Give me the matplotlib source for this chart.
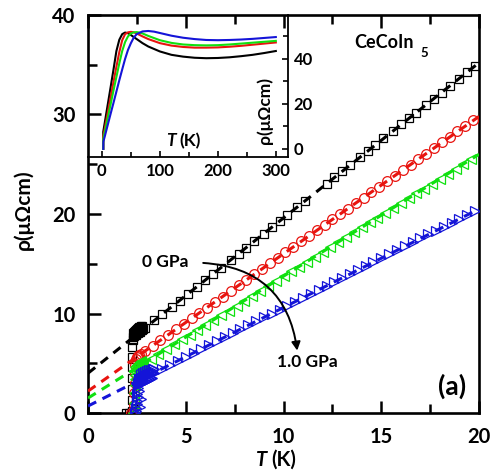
import matplotlib
matplotlib.use("Agg")
import matplotlib.pyplot as plt
from matplotlib.patches import FancyArrowPatch
from matplotlib.ticker import MultipleLocator

plt.rcParams['font.family'] = ['Lato', 'DejaVu Sans']
plt.rcParams['font.weight'] = 'bold'

# ---------------- main panel data (T in K, rho in uOhm cm) ----------------
T_0 = [2.9, 3.4, 3.8, 4.3, 4.7, 5.1, 5.6, 6.0, 6.4, 6.8, 7.3, 7.7, 8.1, 8.5, 9.0, 9.4,
       9.8, 10.2, 10.7, 11.1, 12.2, 12.6, 13.0, 13.4, 13.9, 14.3, 14.7, 15.1, 15.6,
       16.0, 16.4, 16.8, 17.3, 17.7, 18.1, 18.5, 19.0, 19.4, 19.8]
rho_0 = [8.5, 9.3, 9.9, 10.7, 11.3, 12.0, 12.7, 13.4, 14.0, 14.6, 15.4, 16.0, 16.6, 17.3,
         18.0, 18.7, 19.3, 19.9, 20.7, 21.3, 23.0, 23.7, 24.3, 24.9, 25.7, 26.3, 26.9,
         27.6, 28.3, 29.0, 29.6, 30.2, 31.0, 31.6, 32.2, 32.9, 33.6, 34.3, 34.9]
T_0sc = [1.95, 2.1, 2.2, 2.25, 2.25, 2.25, 2.25, 2.25, 2.25, 2.25, 2.28, 2.32, 2.36, 2.4,
         2.44, 2.48, 2.52, 2.56, 2.6, 2.64, 2.68, 2.72, 2.76, 2.8,
         2.3, 2.35, 2.4, 2.45, 2.5, 2.55, 2.6, 2.65, 2.7, 2.75]
rho_0sc = [0.0, 0.0, 0.0, 0.2, 1.3, 2.4, 3.5, 4.6, 5.6, 6.6, 7.3, 7.6, 7.7, 7.8, 7.85,
           7.9, 8.0, 8.05, 8.1, 8.15, 8.2, 8.3, 8.35, 8.4,
           8.0, 8.1, 8.2, 8.3, 8.4, 8.5, 8.6, 8.65, 8.7, 8.75]

T_1 = [2.9, 3.3, 3.7, 4.1, 4.5, 4.9, 5.3, 5.7, 6.1, 6.5, 6.9, 7.3, 7.7, 8.1, 8.5, 8.9,
       9.3, 9.7, 10.1, 10.5, 10.9, 11.3, 11.7, 12.1, 12.5, 12.9, 13.3, 13.7, 14.1, 14.5,
       14.9, 15.3, 15.7, 16.1, 16.5, 16.9, 17.3, 17.7, 18.1, 18.5, 18.9, 19.3, 19.7]
rho_1 = [6.2, 6.75, 7.3, 7.85, 8.4, 8.95, 9.5, 10.05, 10.6, 11.15, 11.7, 12.25, 12.85,
         13.4, 13.95, 14.5, 15.05, 15.6, 16.15, 16.7, 17.25, 17.8, 18.35, 18.9, 19.45,
         20.0, 20.55, 21.1, 21.65, 22.2, 22.75, 23.3, 23.85, 24.4, 24.95, 25.5, 26.05,
         26.6, 27.2, 27.75, 28.3, 28.85, 29.4]
T_1sc = [2.2, 2.3, 2.35, 2.35, 2.4, 2.4, 2.42, 2.45, 2.5, 2.55, 2.6, 2.7]
rho_1sc = [0.0, 0.0, 0.8, 2.0, 3.0, 4.0, 4.8, 5.4, 5.6, 5.7, 5.8, 5.9]

T_2 = [2.8, 3.2, 3.6, 4.0, 4.4, 4.8, 5.2, 5.6, 6.0, 6.4, 6.8, 7.2, 7.6, 8.0, 8.4, 8.8,
       9.2, 9.6, 10.0, 10.4, 10.8, 11.2, 11.6, 12.0, 12.4, 12.8, 13.2, 13.6, 14.0, 14.4,
       14.8, 15.2, 15.6, 16.0, 16.4, 16.8, 17.2, 17.6, 18.0, 18.4, 18.8, 19.2, 19.6]
rho_2 = [4.9, 5.4, 5.9, 6.4, 6.9, 7.4, 7.85, 8.35, 8.85, 9.35, 9.8, 10.3, 10.8, 11.3,
         11.8, 12.3, 12.75, 13.25, 13.75, 14.25, 14.7, 15.2, 15.7, 16.2, 16.7, 17.2,
         17.65, 18.15, 18.65, 19.15, 19.6, 20.1, 20.6, 21.1, 21.6, 22.1, 22.55, 23.05,
         23.55, 24.05, 24.5, 25.0, 25.5]
T_2sc = [2.3, 2.35, 2.35, 2.38, 2.4, 2.42, 2.45, 2.48, 2.5, 2.55, 2.6, 2.65, 2.7, 2.75,
         2.4, 2.45, 2.5, 2.55, 2.6, 2.65, 2.7]
rho_2sc = [0.0, 1.0, 2.0, 2.8, 3.4, 3.8, 4.1, 4.3, 4.4, 4.5, 4.6, 4.65, 4.7, 4.75,
           4.6, 4.7, 4.8, 4.9, 5.0, 5.1, 5.2]

T_3 = [3.4, 3.8, 4.2, 4.6, 5.0, 5.4, 5.8, 6.2, 6.6, 7.0, 7.4, 7.8, 8.2, 8.6, 9.0, 9.4,
       9.8, 10.2, 10.6, 11.0, 11.4, 11.8, 12.2, 12.6, 13.0, 13.4, 13.8, 14.2, 14.6,
       15.0, 15.4, 15.8, 16.2, 16.6, 17.0, 17.4, 17.8, 18.2, 18.6, 19.0, 19.4, 19.8]
rho_3 = [4.05, 4.45, 4.85, 5.25, 5.65, 6.05, 6.45, 6.85, 7.25, 7.65, 8.05, 8.4, 8.8,
         9.2, 9.6, 10.0, 10.4, 10.8, 11.2, 11.6, 12.0, 12.4, 12.8, 13.2, 13.6, 13.95,
         14.35, 14.75, 15.15, 15.55, 15.95, 16.35, 16.75, 17.15, 17.55, 17.95, 18.3,
         18.7, 19.1, 19.5, 19.9, 20.3]
T_3sc = [2.4, 2.45, 2.5, 2.5, 2.55, 2.55, 2.6, 2.6, 2.65, 2.7, 2.75, 2.8, 2.85, 2.9,
         2.95, 3.0, 3.05, 3.1, 3.15, 3.2, 3.25, 3.3,
         2.6, 2.65, 2.7, 2.75, 2.8, 2.85, 2.9, 2.95, 3.0, 3.05, 3.1, 3.15, 3.2, 3.25,
         2.7, 2.8, 2.9, 3.0, 3.1, 3.2, 3.3, 3.4,
         2.45, 2.5, 2.55, 2.6, 2.65, 2.7]
rho_3sc = [0.0, 0.5, 1.2, 1.9, 2.5, 3.0, 3.2, 3.4, 3.45, 3.5, 3.55, 3.6, 3.65, 3.7,
           3.75, 3.8, 3.85, 3.9, 3.95, 4.0, 4.0, 4.05,
           2.9, 2.95, 3.0, 3.05, 3.1, 3.15, 3.2, 3.25, 3.3, 3.35, 3.4, 3.45, 3.5, 3.55,
           3.95, 4.05, 4.15, 4.25, 4.3, 4.35, 4.4, 4.45,
           0.2, 0.9, 1.6, 2.2, 0.6, 1.4]

# linear fits rho = rho0 + A*T
fit_rho0 = [4.0, 2.2, 1.5, 0.7]
fit_A = [1.56, 1.38, 1.225, 0.99]
fit_T = [0.0, 20.0]

colors = ['black', '#e8140f', '#10e010', '#1414d8']
markers = ['s', 'o', '<', '>']
msizes = [6.2, 7.0, 7.2, 7.2]

# ---------------- inset data (0-300 K) ----------------
Ti_0 = [2.2, 2.3, 5, 10, 15, 20, 25, 30, 35, 40, 45, 50, 60, 70, 80, 100, 120, 140, 160,
        180, 200, 220, 240, 260, 280, 300]
ri_0 = [0.0, 7.6, 11.8, 19.6, 27.4, 35.3, 43.5, 48.5, 51.0, 51.7, 51.4, 50.6, 48.8, 47.0,
        45.5, 43.3, 41.8, 41.0, 40.5, 40.3, 40.4, 40.7, 41.2, 41.8, 42.6, 43.5]
Ti_1 = [2.3, 2.4, 5, 10, 15, 20, 25, 30, 35, 40, 45, 50, 55, 60, 70, 80, 100, 120, 140,
        160, 180, 200, 220, 240, 260, 280, 300]
ri_1 = [0.0, 5.6, 9.1, 16.0, 22.9, 29.8, 36.5, 43.0, 48.3, 51.0, 51.8, 52.0, 51.8, 51.3,
        50.0, 48.8, 47.0, 45.9, 45.3, 45.0, 45.0, 45.1, 45.4, 45.8, 46.3, 46.8, 47.3]
Ti_2 = [2.3, 2.4, 5, 10, 15, 20, 25, 30, 35, 40, 45, 50, 55, 60, 65, 70, 80, 100, 120,
        140, 160, 180, 200, 220, 240, 260, 280, 300]
ri_2 = [0.0, 4.4, 7.6, 13.7, 19.8, 26.0, 32.0, 38.0, 43.5, 47.5, 50.0, 51.3, 51.8, 51.9,
        51.7, 51.3, 50.2, 48.3, 47.1, 46.4, 46.1, 46.0, 46.1, 46.4, 46.8, 47.2, 47.6, 48.0]
Ti_3 = [2.4, 2.5, 5, 10, 15, 20, 25, 30, 35, 40, 45, 50, 55, 60, 70, 80, 90, 100, 120,
        140, 160, 180, 200, 220, 240, 260, 280, 300]
ri_3 = [0.0, 3.2, 5.6, 10.6, 15.6, 20.5, 25.5, 30.5, 35.3, 40.0, 44.0, 47.0, 49.5, 51.0,
        52.2, 52.4, 52.1, 51.5, 50.3, 49.4, 48.8, 48.4, 48.3, 48.4, 48.6, 48.9, 49.3, 49.7]

main_xticks = [0, 5, 10, 15, 20]
main_yticks = [0, 10, 20, 30, 40]
inset_xticks = [0, 100, 200, 300]
inset_yticks = [0, 20, 40]

W, H = 490, 476


def px(x, y):
    return (x / W, 1 - y / H)


fig = plt.figure(figsize=(W / 100, H / 100), dpi=100)
L, R, B, Tp = 88, 479, 413, 15
ax = fig.add_axes([L / W, 1 - B / H, (R - L) / W, (B - Tp) / H])
ax.set_xlim(0, 20)
ax.set_ylim(0, 40)

series = [(T_0, rho_0, T_0sc, rho_0sc), (T_1, rho_1, T_1sc, rho_1sc),
          (T_2, rho_2, T_2sc, rho_2sc), (T_3, rho_3, T_3sc, rho_3sc)]
for i, (tt, rr, ts, rs) in enumerate(series):
    c = colors[i]
    fx = fit_T
    fy = [fit_rho0[i] + fit_A[i] * t for t in fit_T]
    ax.plot(ts, rs, linestyle='none', marker=markers[i], ms=msizes[i], mfc='none',
            mec=c, mew=0.9, zorder=3)
    ax.plot(tt, rr, linestyle='none', marker=markers[i], ms=msizes[i], mfc='none',
            mec=c, mew=0.9, zorder=3)
    ax.plot(fx, fy, color=c, lw=2.2, dashes=(3.0, 2.3), zorder=4)

for s in ax.spines.values():
    s.set_linewidth(1.9)
ax.set_xticks(main_xticks)
ax.set_yticks(main_yticks)
ax.xaxis.set_minor_locator(MultipleLocator(2.5))
ax.yaxis.set_minor_locator(MultipleLocator(5))
ax.tick_params(which='both', direction='in', top=True, right=False, width=1.8,
               labelsize=14.5)
ax.tick_params(which='major', length=9)
ax.tick_params(which='minor', length=6.5)
ax.tick_params(axis='x', pad=10)
ax.tick_params(axis='y', pad=9)
for lab in ax.get_xticklabels() + ax.get_yticklabels():
    lab.set_fontweight('bold')

# axis labels
fig.text(*px(267, 460), 'T', style='italic', weight='bold', fontsize=14.5,
         ha='right', va='center')
fig.text(*px(271, 460), '(K)', weight='bold', fontsize=14.5, ha='left', va='center')
fig.text(*px(24, 210), 'ρ(μΩcm)', weight='bold', fontsize=15, rotation=90,
         ha='center', va='center')

# annotations
fig.text(*px(384, 42), 'CeCoIn', weight='bold', fontsize=13, ha='center', va='center')
fig.text(*px(424, 53), '5', weight='bold', fontsize=9.5, ha='center', va='center')
fig.text(*px(165, 262), '0 GPa', weight='bold', fontsize=12.5, ha='center', va='center')
fig.text(*px(307, 362), '1.0 GPa', weight='bold', fontsize=12.5, ha='center', va='center')
fig.text(*px(452, 386), '(a)', weight='bold', fontsize=19, ha='center', va='center')

arrow = FancyArrowPatch((5.75, 15.1), (10.72, 6.0), connectionstyle='arc3,rad=-0.42',
                        arrowstyle='-|>,head_length=5,head_width=2.6', color='black',
                        lw=1.4, zorder=6)
ax.add_patch(arrow)

# ---------------- inset ----------------
iL, iR, iB, iT = 88, 288, 157, 15
axi = fig.add_axes([iL / W, 1 - iB / H, (iR - iL) / W, (iB - iT) / H])
axi.patch.set_alpha(0)
axi.set_xlim(-24, 321)
axi.set_ylim(-3.6, 59.5)
for i, (tt, rr) in enumerate([(Ti_0, ri_0), (Ti_1, ri_1), (Ti_2, ri_2), (Ti_3, ri_3)]):
    axi.plot(tt, rr, color=colors[i], lw=1.5)
for s in axi.spines.values():
    s.set_linewidth(1.3)
axi.spines['left'].set_visible(False)
axi.spines['top'].set_visible(False)
axi.set_xticks(inset_xticks)
axi.set_yticks(inset_yticks)
axi.xaxis.set_minor_locator(MultipleLocator(50))
axi.yaxis.set_minor_locator(MultipleLocator(10))
axi.yaxis.tick_right()
axi.tick_params(which='both', direction='in', left=False, top=False, right=True,
                width=1.2, labelsize=12)
axi.tick_params(which='major', length=4.5)
axi.tick_params(which='minor', length=3.5)
axi.tick_params(axis='x', pad=4)
axi.tick_params(axis='y', pad=4)
for lab in axi.get_xticklabels() + axi.get_yticklabels():
    lab.set_fontweight('bold')

fig.text(*px(176, 141), 'T', style='italic', weight='bold', fontsize=12.5,
         ha='right', va='center')
fig.text(*px(179, 141), '(K)', weight='bold', fontsize=12.5, ha='left', va='center')
fig.text(*px(265, 110), 'ρ(μΩcm)', weight='bold', fontsize=12.5, rotation=90,
         ha='center', va='center')

fig.savefig('out.png', dpi=100)
